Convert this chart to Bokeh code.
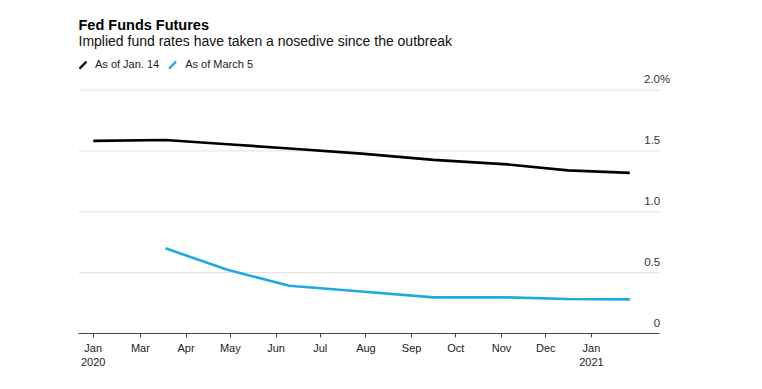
import pandas as pd
from bokeh.plotting import figure
from bokeh.models import (Range1d, FixedTicker, Label, Legend, LegendItem, Arrow)
from bokeh.embed import file_html
from bokeh.resources import INLINE

# ---------------- data ----------------
meeting_dates = ["2020-01-29", "2020-03-18", "2020-04-29", "2020-06-10", "2020-07-29",
                 "2020-09-16", "2020-11-05", "2020-12-16", "2021-01-27"]
as_of_jan14 = [1.582, 1.590, 1.555, 1.520, 1.478, 1.426, 1.389, 1.341, 1.319]
march5_dates = meeting_dates[1:]
as_of_march5 = [0.700, 0.523, 0.392, 0.345, 0.297, 0.297, 0.283, 0.280]

xtick_dates = ["2020-01-29", "2020-03-01", "2020-04-01", "2020-05-01", "2020-06-01",
               "2020-07-01", "2020-08-01", "2020-09-01", "2020-10-01", "2020-11-01",
               "2020-12-01", "2021-01-01"]
xtick_labels = ["Jan\n2020", "Mar", "Apr", "May", "Jun", "Jul", "Aug", "Sep", "Oct",
                "Nov", "Dec", "Jan\n2021"]
ytick_values = [0, 0.5, 1.0, 1.5, 2.0]
ytick_labels = ["0", "0.5", "1.0", "1.5", "2.0%"]

title_text = "Fed Funds Futures"
subtitle_text = "Implied fund rates have taken a nosedive since the outbreak"
series_names = ["As of Jan. 14", "As of March 5"]
series_colors = ["#000000", "#1ea9e1"]

FONT = "Liberation Sans"

# ---------------- figure ----------------
x_start = pd.Timestamp("2020-01-19")    # left end of plot / gridlines
grid_end = pd.Timestamp("2021-02-16")   # right end of gridlines and axis line
x_end = pd.Timestamp("2021-02-25")      # room for the value labels

p = figure(width=750, height=380, x_axis_type="datetime",
           x_range=Range1d(x_start, x_end), y_range=Range1d(0, 2.654),
           output_backend="svg", toolbar_location=None,
           min_border_left=78, min_border_right=78,
           min_border_top=10, min_border_bottom=47)
p.outline_line_color = None
p.background_fill_color = "white"
p.border_fill_color = "white"
p.xgrid.grid_line_color = None
p.ygrid.grid_line_color = None
p.yaxis.visible = False

# horizontal gridlines (stop short of the value labels)
p.segment(x0=[x_start] * len(ytick_values), x1=[grid_end] * len(ytick_values),
          y0=ytick_values, y1=ytick_values, line_color="#e2e2e2", line_width=1)

d1 = pd.to_datetime(meeting_dates)
d2 = pd.to_datetime(march5_dates)

p.line(d1, as_of_jan14, line_color=series_colors[0], line_width=2.7, line_join="round")
p.line(d2, as_of_march5, line_color=series_colors[1], line_width=2.6, line_join="round")

# invisible proxies so the Legend draws only its labels
s1 = p.scatter(d1, as_of_jan14, size=0, alpha=0)
s2 = p.scatter(d2, as_of_march5, size=0, alpha=0)

legend = Legend(items=[LegendItem(label=series_names[0], renderers=[s1]),
                       LegendItem(label=series_names[1], renderers=[s2])],
                location=(-9, 256), orientation="horizontal",
                glyph_width=26, glyph_height=26, label_standoff=-1, spacing=0,
                padding=0, margin=0, border_line_color=None,
                background_fill_alpha=0,
                label_text_font=FONT, label_text_font_size="11px",
                label_text_color="#222222")
p.add_layout(legend, "center")

# slanted legend strokes ("/"), one per series, in screen units of the frame
icon_centers = [4.5, 94.0]
for cx, col in zip(icon_centers, series_colors):
    p.add_layout(Arrow(end=None, start=None,
                       x_start=cx - 3.5, y_start=264.9, x_end=cx + 3.5, y_end=271.9,
                       start_units="screen", end_units="screen",
                       line_color=col, line_width=2.2))

# x axis
xticks = [int(pd.Timestamp(d).value // 10**6) for d in xtick_dates]
xa = p.xaxis[0]
xa.bounds = (x_start, grid_end)
xa.ticker = FixedTicker(ticks=xticks)
xa.major_label_overrides = {t: l for t, l in zip(xticks, xtick_labels)}
xa.axis_line_color = "#444444"
xa.axis_line_width = 1
xa.major_tick_line_color = "#444444"
xa.major_tick_in = 0
xa.major_tick_out = 4
xa.minor_tick_line_color = None
xa.major_label_standoff = 4
xa.major_label_text_font = FONT
xa.major_label_text_font_size = "11px"
xa.major_label_text_color = "#222222"

# value labels sitting above the gridlines, at the right
for v, t in zip(ytick_values, ytick_labels):
    p.add_layout(Label(x=grid_end, y=v, text=t, x_offset=11 if t.endswith("%") else 1,
                       y_offset=11, text_align="right", text_baseline="alphabetic",
                       text_font=FONT, text_font_size="11.5px", text_color="#333333"))

# titles
p.add_layout(Label(x=0, y=308.7, x_units="screen", y_units="screen", text=title_text,
                   text_font=FONT, text_font_size="14.5px", text_font_style="bold",
                   text_color="#000000", text_align="left", text_baseline="alphabetic"))
p.add_layout(Label(x=0, y=292.3, x_units="screen", y_units="screen", text=subtitle_text,
                   text_font=FONT, text_font_size="14px",
                   text_color="#111111", text_align="left", text_baseline="alphabetic"))

open("out.html", "w").write(file_html(p, INLINE))
